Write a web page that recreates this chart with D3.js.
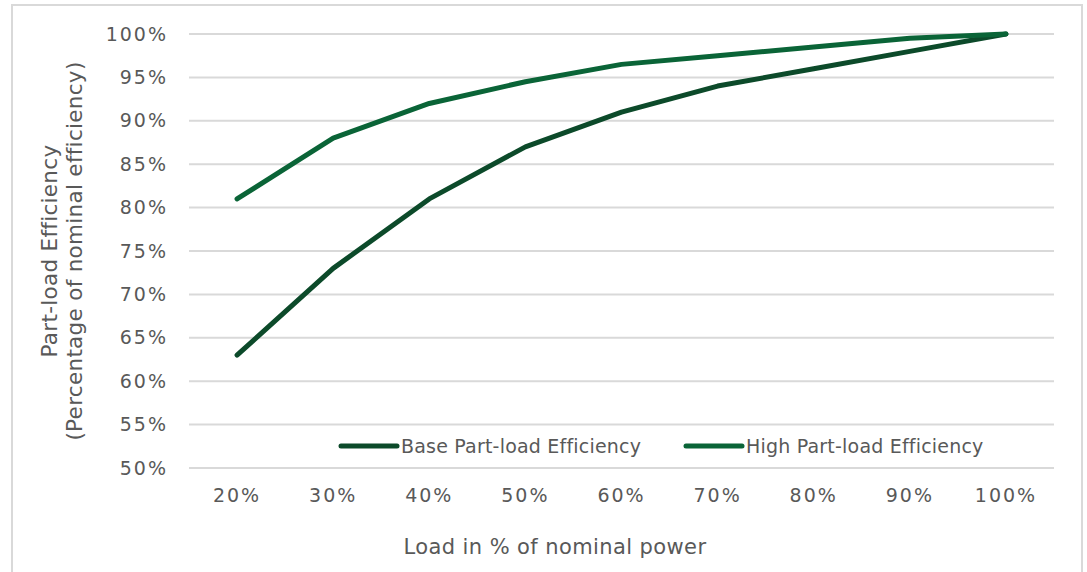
<!DOCTYPE html>
<html>
<head>
<meta charset="utf-8">
<script src="https://cdn.jsdelivr.net/npm/d3@7"></script>
<style>
  html, body { margin: 0; padding: 0; background: #fff; }
  svg text { font-family: "DejaVu Sans", Verdana, sans-serif; fill: #595959; }
</style>
</head>
<body>
<svg id="chart" width="1087" height="572"></svg>
<script>
// Load levels (x categories) and tick labels
const loads = ["20%", "30%", "40%", "50%", "60%", "70%", "80%", "90%", "100%"];
// Part-load efficiency as a percentage of nominal efficiency
const baseEfficiency = [63, 73, 81, 87, 91, 94, 96, 98, 100];
const highEfficiency = [81, 88, 92, 94.5, 96.5, 97.5, 98.5, 99.5, 100];
const yTicks = [50, 55, 60, 65, 70, 75, 80, 85, 90, 95, 100];
const seriesNames = ["Base Part-load Efficiency", "High Part-load Efficiency"];
const seriesColors = ["#0c4a2a", "#0a6437"];

const svg = d3.select("#chart");

// outer frame
svg.append("rect")
  .attr("x", 12).attr("y", 5)
  .attr("width", 1070).attr("height", 580)
  .attr("fill", "none").attr("stroke", "#d9d9d9").attr("stroke-width", 2);

const plot = { left: 189, right: 1054, top: 34, bottom: 468 };

const x = d3.scaleBand().domain(loads).range([plot.left, plot.right]);
const y = d3.scaleLinear().domain([50, 100]).range([plot.bottom, plot.top]);

// horizontal gridlines
svg.append("g").selectAll("line").data(yTicks).join("line")
  .attr("x1", plot.left).attr("x2", plot.right)
  .attr("y1", d => y(d)).attr("y2", d => y(d))
  .attr("stroke", "#d9d9d9").attr("stroke-width", 2);

// y axis labels
const yAxis = d3.axisLeft(y).tickValues(yTicks).tickFormat(d => d + "%").tickSize(0).tickPadding(21);
const gy = svg.append("g").attr("transform", `translate(${plot.left},0)`).call(yAxis);
gy.select(".domain").remove();
gy.selectAll("text").attr("font-size", 19).attr("letter-spacing", 2).style("fill", "#595959")
  .attr("font-family", "DejaVu Sans, sans-serif");

// x axis labels
const xAxis = d3.axisBottom(x).tickSize(0).tickPadding(21);
const gx = svg.append("g").attr("transform", `translate(0,${plot.bottom})`).call(xAxis);
gx.select(".domain").remove();
gx.selectAll("text").attr("font-size", 19).attr("letter-spacing", 2).style("fill", "#595959")
  .attr("font-family", "DejaVu Sans, sans-serif");

// series lines
const line = d3.line()
  .x((d, i) => x(loads[i]) + x.bandwidth() / 2)
  .y(d => y(d));

[baseEfficiency, highEfficiency].forEach((vals, k) => {
  svg.append("path")
    .datum(vals)
    .attr("d", line)
    .attr("fill", "none")
    .attr("stroke", seriesColors[k])
    .attr("stroke-width", 5)
    .attr("stroke-linecap", "round")
    .attr("stroke-linejoin", "round");
});

// legend
const legendItems = [
  { x: 341, name: seriesNames[0], color: seriesColors[0] },
  { x: 686, name: seriesNames[1], color: seriesColors[1] }
];
const legendY = 446;
legendItems.forEach(it => {
  svg.append("line")
    .attr("x1", it.x).attr("x2", it.x + 56)
    .attr("y1", legendY).attr("y2", legendY)
    .attr("stroke", it.color).attr("stroke-width", 5)
    .attr("stroke-linecap", "round");
  svg.append("text")
    .attr("x", it.x + 60).attr("y", legendY + 7)
    .attr("font-size", 19).attr("letter-spacing", 0.2)
    .text(it.name);
});

// axis titles
svg.append("text")
  .attr("x", 555).attr("y", 554)
  .attr("text-anchor", "middle").attr("font-size", 21).attr("letter-spacing", 0.4)
  .text("Load in % of nominal power");

const yTitle = svg.append("text")
  .attr("transform", "translate(57,251) rotate(-90)")
  .attr("text-anchor", "middle").attr("font-size", 21.5).attr("letter-spacing", 0.3);
yTitle.append("tspan").attr("x", 0).attr("dy", 0).text("Part-load Efficiency");
yTitle.append("tspan").attr("x", 0).attr("dy", 25).text("(Percentage of nominal efficiency)");
</script>
</body>
</html>
